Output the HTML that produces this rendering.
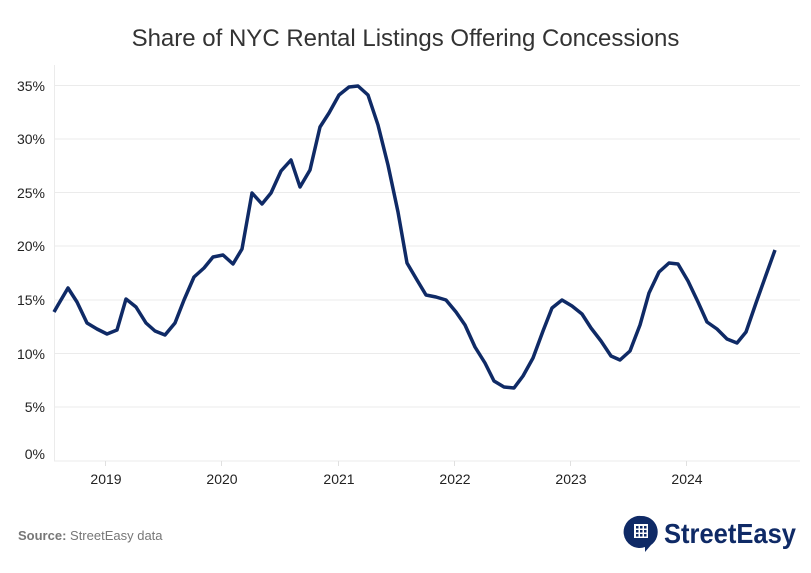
<!DOCTYPE html><html><head><meta charset="utf-8"><style>body{margin:0;background:#fff}svg{display:block;font-family:"Liberation Sans",sans-serif}</style></head><body>
<svg width="811" height="573" viewBox="0 0 811 573">
<text x="405.5" y="46" text-anchor="middle" font-size="24" fill="#333">Share of NYC Rental Listings Offering Concessions</text>
<g stroke="#ebebeb" stroke-width="1">
<line x1="54" x2="800" y1="85.5" y2="85.5"/><line x1="54" x2="800" y1="139" y2="139"/><line x1="54" x2="800" y1="192.5" y2="192.5"/><line x1="54" x2="800" y1="246" y2="246"/><line x1="54" x2="800" y1="300" y2="300"/><line x1="54" x2="800" y1="353.5" y2="353.5"/><line x1="54" x2="800" y1="407" y2="407"/><line x1="54" x2="800" y1="461" y2="461"/>
<line x1="54.5" x2="54.5" y1="65" y2="461"/>
</g>
<g font-size="14" fill="#222" text-anchor="end">
<text x="45" y="91">35%</text><text x="45" y="144">30%</text><text x="45" y="198">25%</text><text x="45" y="251">20%</text><text x="45" y="305">15%</text><text x="45" y="359">10%</text><text x="45" y="412">5%</text><text x="45" y="459">0%</text>
</g>
<g stroke="#e0e0e0"><line x1="105.5" x2="105.5" y1="461" y2="466"/><line x1="221.5" x2="221.5" y1="461" y2="466"/><line x1="338.5" x2="338.5" y1="461" y2="466"/><line x1="454.5" x2="454.5" y1="461" y2="466"/><line x1="570.5" x2="570.5" y1="461" y2="466"/><line x1="686.5" x2="686.5" y1="461" y2="466"/></g>
<g font-size="14" fill="#222" text-anchor="middle">
<text x="106" y="484">2019</text><text x="222" y="484">2020</text><text x="339" y="484">2021</text><text x="455" y="484">2022</text><text x="571" y="484">2023</text><text x="687" y="484">2024</text>
</g>
<polyline fill="none" stroke="#0f2a66" stroke-width="3.5" stroke-linejoin="round" points="54,312 58,305 68,288 77,302 87,323 97,329 107,334 117,330 126,299 136,307 146,323 155,331 165,335 175,323 184,300 194,277 204,268 213,257 223,255 233,264 242,249 252,193 262,204 271,193 281,171 291,160 300,187 310,170 320,127 329,113 339,95 349,87 358,86 368,95 378,125 388,165 398,212 407,263 417,280 426,295 436,297 446,300 456,312 465,325 475,347 485,363 494,381 504,387 514,388 523,376 533,358 543,331 552,308 562,300 572,306 582,314 591,328 601,341 611,356 620,360 630,351 640,325 649,293 659,272 669,263 678,264 688,281 698,302 707,322 717,329 727,339 737,343 746,332 756,303 766,275 775,250"/>
<text x="18" y="540" font-size="13" fill="#777"><tspan font-weight="bold">Source:</tspan> StreetEasy data</text>
<path d="M641,516 a16,16 0 1,0 4,31 l0,5 l6,-7 a16,16 0 0,0 -10,-29z" fill="#0f2a66"/>
<rect x="634" y="524" width="14" height="14" fill="#fff"/>
<g fill="#0f2a66"><rect x="636" y="526" width="2.5" height="2.5"/><rect x="640" y="526" width="2.5" height="2.5"/><rect x="644" y="526" width="2.5" height="2.5"/><rect x="636" y="530" width="2.5" height="2.5"/><rect x="640" y="530" width="2.5" height="2.5"/><rect x="644" y="530" width="2.5" height="2.5"/><rect x="636" y="534" width="2.5" height="2.5"/><rect x="640" y="534" width="2.5" height="2.5"/><rect x="644" y="534" width="2.5" height="2.5"/></g>
<text x="664" y="543" font-size="28" font-weight="bold" fill="#0f2a66" textLength="132" lengthAdjust="spacingAndGlyphs">StreetEasy</text>
</svg></body></html>
